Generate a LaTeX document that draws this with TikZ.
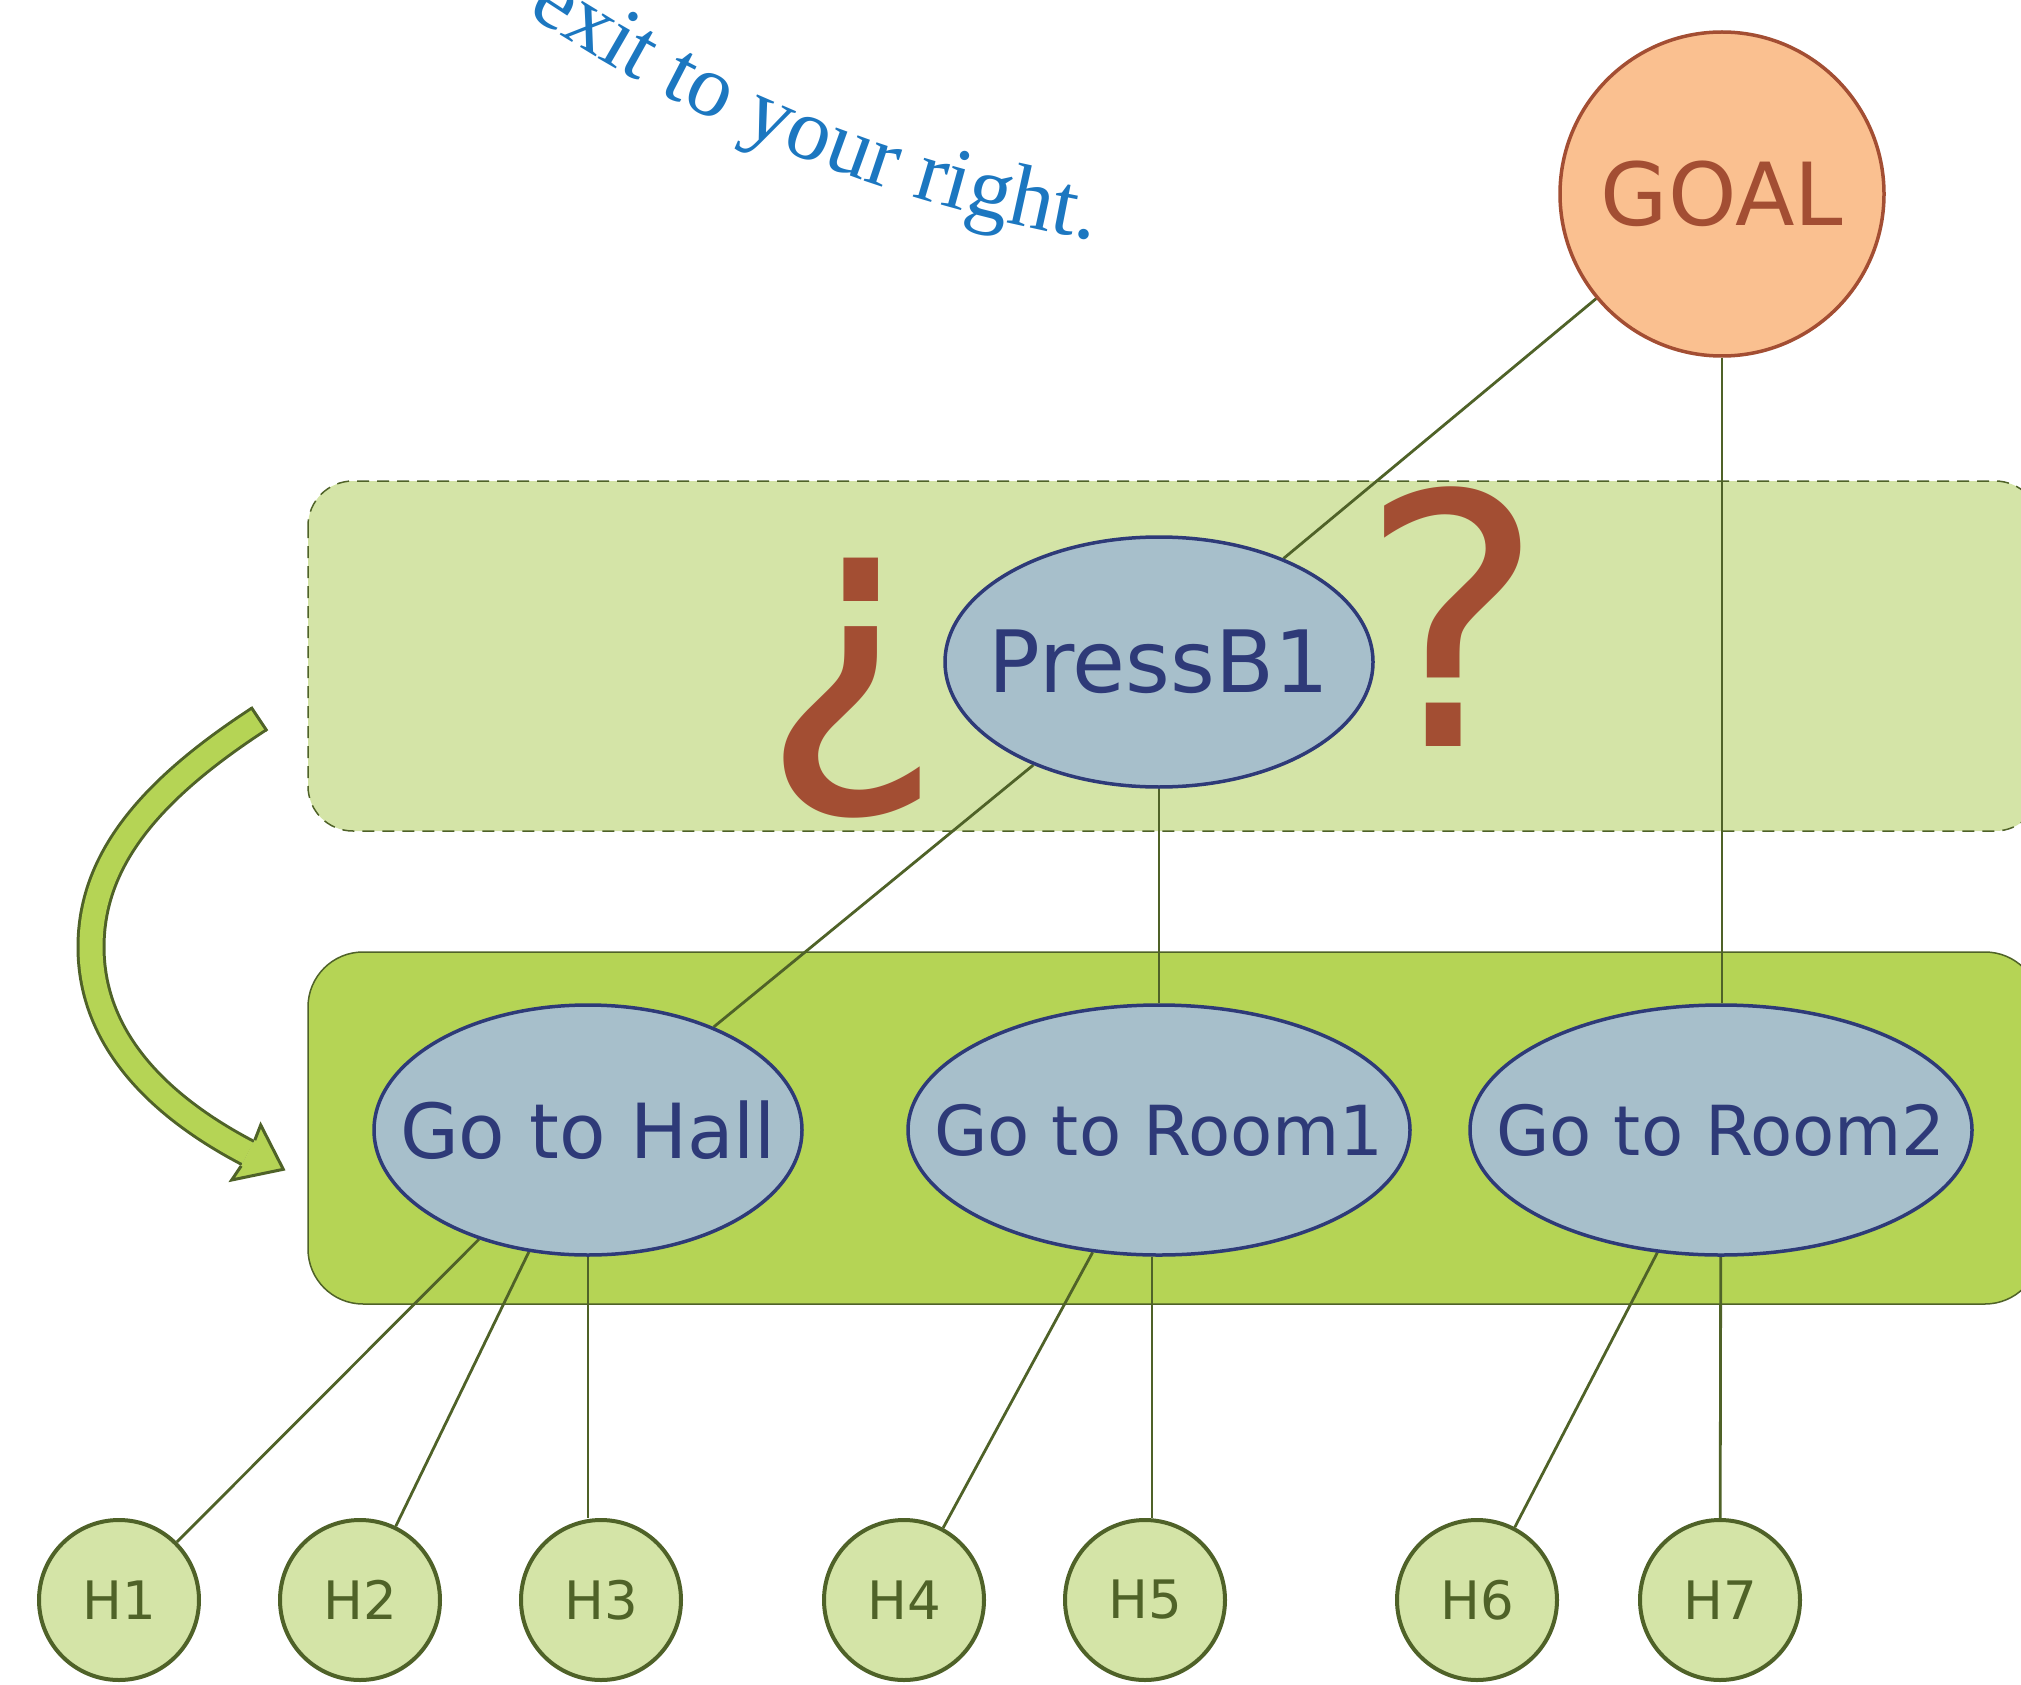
\documentclass[tikz,border=0pt]{standalone}
\usepackage{fontspec}
\newfontfamily\dvs{DejaVu Sans}
\newfontfamily\lser{Liberation Serif}
\usetikzlibrary{decorations.text,shapes.geometric}
\definecolor{boxlight}{HTML}{D4E4A7}
\definecolor{boxgreen}{HTML}{B5D455}
\definecolor{olive}{HTML}{4F6228}
\definecolor{taskfill}{HTML}{A7BFCB}
\definecolor{navy}{HTML}{2E3A78}
\definecolor{rust}{HTML}{A34E33}
\definecolor{peach}{HTML}{FAC090}
\definecolor{topblue}{HTML}{1C77C0}
\pgfdeclarelayer{bg}
\pgfdeclarelayer{mid}
\pgfsetlayers{bg,mid,main}
\newcommand{\zb}[1]{\makebox[0pt]{#1}}
\begin{document}
\begin{tikzpicture}[x=1pt,y=-1pt,
  goalnode/.style={circle, draw=rust, line width=3.5pt, fill=peach, text=rust,
    minimum size=324pt, inner sep=0pt, font=\dvs\fontsize{87pt}{90pt}\selectfont},
  task/.style={ellipse, draw=navy, line width=3.5pt, fill=taskfill, text=navy,
    minimum height=250pt, inner sep=0pt},
  hnode/.style={circle, draw=olive, line width=4pt, fill=boxlight, text=olive,
    minimum size=160pt, inner sep=0pt, font=\dvs\fontsize{53pt}{56pt}\selectfont},
  conn/.style={draw=olive, line width=2.8pt},
  qmark/.style={text=rust, inner sep=0pt, font=\dvs\fontsize{350pt}{350pt}\selectfont}]
\useasboundingbox (0,0) rectangle (2021,1685);

% nodes
\node[goalnode] (goal) at (1722,194) {GOAL};
\node[task, minimum width=428pt, font=\dvs\fontsize{86pt}{90pt}\selectfont] (press) at (1159,662) {\zb{PressB1}};
\node[task, minimum width=428pt, font=\dvs\fontsize{76pt}{80pt}\selectfont] (hall) at (588,1130) {\zb{Go to Hall}};
\node[task, minimum width=502pt, font=\dvs\fontsize{69pt}{72pt}\selectfont] (room1) at (1159,1130) {\zb{Go to Room1}};
\node[task, minimum width=502pt, font=\dvs\fontsize{69pt}{72pt}\selectfont] (room2) at (1721,1130) {\zb{Go to Room2}};
\node[hnode] (h1) at (119,1600) {H1};
\node[hnode] (h2) at (360,1600) {H2};
\node[hnode] (h3) at (601,1600) {H3};
\node[hnode] (h4) at (904,1600) {H4};
\node[hnode] (h5) at (1145,1600) {H5};
\node[hnode] (h6) at (1477,1600) {H6};
\node[hnode] (h7) at (1720,1600) {H7};

\node[qmark] (qopen) at (852,688) {¿};
\node[qmark] (qclose) at (1452,617) {?};

% boxes
\begin{pgfonlayer}{bg}
  \draw[fill=boxlight, draw=olive, line width=1.5pt, dash pattern=on 12pt off 8pt, rounded corners=45pt]
    (308,481) rectangle (2040,831);
  \draw[fill=boxgreen, draw=olive, line width=1.5pt, rounded corners=55pt]
    (308,952) rectangle (2040,1304);
\end{pgfonlayer}

% connectors
\begin{pgfonlayer}{mid}
  \draw[conn] (goal) -- (press);
  \draw[conn] (goal) -- (goal |- room2.north);
  \draw[conn] (press) -- (hall);
  \draw[conn] (press) -- (room1);
  \draw[conn] (hall) -- (h1);
  \draw[conn] (hall) -- (h2);
  \draw[conn] (hall) -- (hall |- h3.north);
  \draw[conn] (room1) -- (h4);
  \draw[conn] (room1.south -| 1152,0) -- (h5.north -| 1152,0);
  \draw[conn] (room2) -- (h6);
  \draw[conn] (room2) -- (h7);
\end{pgfonlayer}

% curved block arrow
\draw[line width=29pt, olive, line cap=butt]
  (259,719) .. controls (150,790) and (91,860) .. (91,947)
  .. controls (91,1040) and (160,1107) .. (248,1153);
\draw[line width=23pt, boxgreen, line cap=butt]
  (259,719) .. controls (150,790) and (91,860) .. (91,947)
  .. controls (91,1040) and (160,1107) .. (248,1153);
\draw[line width=3pt, olive] (251,707) -- (267,731);
\fill[boxgreen] (254.8,1140.1) -- (260.7,1125) -- (283.3,1169.3) -- (231.7,1180) -- (241.2,1165.9) -- cycle;
\draw[line width=3pt, olive, line join=miter] (254.8,1140.1) -- (260.7,1125) -- (283.3,1169.3) -- (231.7,1180) -- (241.2,1165.9);

% curved text
\path[decorate, decoration={text along path, text color=topblue, text align=left,
  text={|\lser\fontsize{88pt}{88pt}\selectfont|exit to your right.}}]
  (1342,-1205) ++(123.8:1466) arc[start angle=123.8, end angle=90, radius=1466];
\end{tikzpicture}
\end{document}
